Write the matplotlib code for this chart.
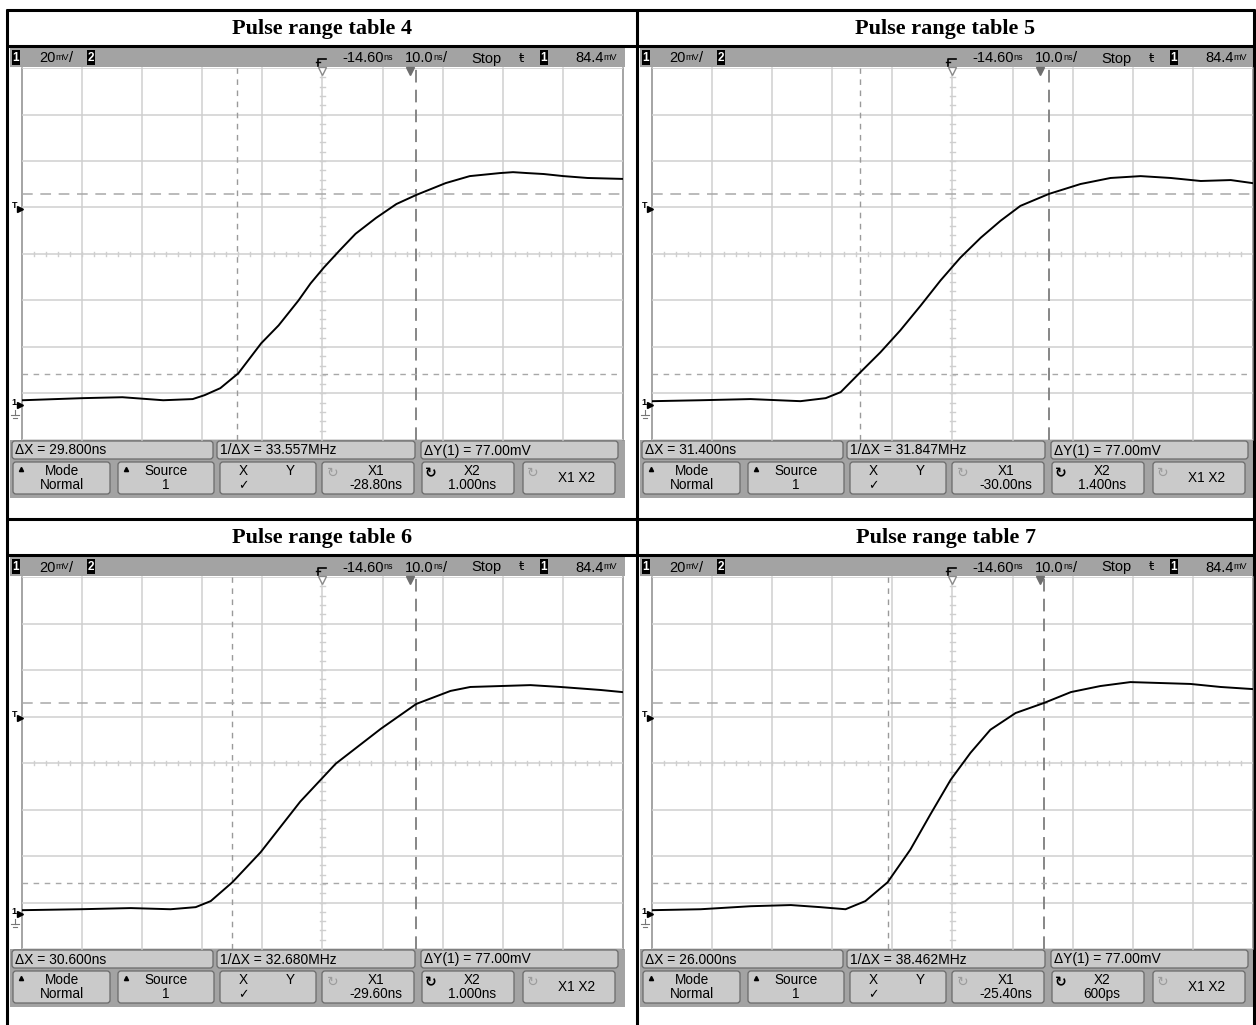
import matplotlib
matplotlib.use("Agg")
import matplotlib.pyplot as plt
from matplotlib.patches import Rectangle, FancyBboxPatch

W, H = 1256, 1025

# ---------------- data ----------------
titles = ["Pulse range table 4", "Pulse range table 5",
          "Pulse range table 6", "Pulse range table 7"]

volts_per_div_mv = 20.0
time_per_div_ns = 10.0
delay_ns = -14.60
trigger_level_mv = 84.4
screen_center_mv = 65.0
ground_mv = 0.0

status_volts = ("20", "mV", "/")
status_delay = ("-14.60", "ns", "")
status_time = ("10.0", "ns", "/")
status_run = "Stop"
status_trig = ("84.4", "mV", "")

delta_x = ["29.800ns", "31.400ns", "30.600ns", "26.000ns"]
inv_delta_x = ["33.557MHz", "31.847MHz", "32.680MHz", "38.462MHz"]
delta_y = ["77.00mV", "77.00mV", "77.00mV", "77.00mV"]
x1_ns = [-28.80, -30.00, -29.60, -25.40]
x2_ns = [1.000, 1.400, 1.000, 0.600]
x1_labels = ["-28.80ns", "-30.00ns", "-29.60ns", "-25.40ns"]
x2_labels = ["1.000ns", "1.400ns", "1.000ns", "600ps"]
y1_mv = 13.6
y2_mv = 90.6

trace4_t = [-64.5, -54.5, -47.9, -41.1, -36.2, -34.2, -31.6, -28.6, -24.8, -21.9, -18.6,
            -16.6, -14.4, -11.8, -9.1, -5.7, -2.3, 1.0, 5.9, 9.9, 14.9, 17.1, 19.5, 22.2,
            25.5, 29.5, 35.3]
trace4_v = [2.1, 3.0, 3.4, 2.1, 2.6, 4.3, 7.3, 13.7, 26.6, 34.3, 45.0,
            52.3, 59.1, 66.4, 73.7, 80.5, 86.5, 90.4, 95.5, 98.5, 99.8, 100.2, 99.8, 99.4,
            98.5, 97.7, 97.3]

trace5_t = [-64.5, -56.5, -48.2, -39.9, -35.7, -33.2, -30.1, -26.6, -23.3, -19.9, -16.6, -13.3,
            -9.9, -6.6, -3.3, 1.4, 6.7, 11.7, 16.7, 21.7, 26.7, 31.7, 35.3]
trace5_v = [1.7, 2.1, 2.6, 1.7, 3.0, 5.6, 13.7, 22.7, 32.1, 42.8, 53.6, 63.4,
            72.0, 79.3, 85.7, 90.8, 95.1, 97.7, 98.5, 97.7, 96.4, 96.8, 95.5]

trace6_t = [-64.5, -54.9, -46.5, -39.9, -35.7, -33.2, -29.6, -24.9, -18.3, -12.4, -4.9, 1.0,
            6.7, 10.0, 15.0, 20.0, 25.0, 31.7, 35.3]
trace6_v = [1.7, 2.1, 2.6, 2.1, 3.0, 5.6, 13.7, 26.6, 48.4, 64.7, 79.7, 90.4,
            96.0, 97.7, 98.1, 98.5, 97.7, 96.4, 95.5]

trace7_t = [-64.5, -56.5, -48.2, -41.5, -36.6, -32.4, -29.1, -25.4, -21.6, -18.3, -14.9, -11.6,
            -8.3, -4.1, 0.6, 5.1, 10.0, 15.0, 20.0, 25.0, 30.0, 35.3]
trace7_v = [1.7, 2.1, 3.4, 3.9, 3.0, 2.1, 5.6, 13.7, 27.8, 42.8, 57.8, 69.4,
            79.3, 86.5, 90.8, 95.5, 98.1, 99.8, 99.4, 99.0, 97.7, 96.8]

traces_t = [trace4_t, trace5_t, trace6_t, trace7_t]
traces_v = [trace4_v, trace5_v, trace6_v, trace7_v]

# ---------------- style ----------------
SERIF = ['Liberation Serif', 'DejaVu Serif']
REG = ['Liberation Sans', 'DejaVu Sans']
SYM = ['DejaVu Sans']
BAND = '#a3a3a3'
BOX = '#cacaca'
BOXEDGE = '#6a6a6a'
GRID = '#cfcfcf'

fig = plt.figure(figsize=(W / 100, H / 100), dpi=100)
ov = fig.add_axes([0, 0, 1, 1])
ov.set_xlim(0, W)
ov.set_ylim(H, 0)
ov.axis('off')
renderer = fig.canvas.get_renderer()


def rect(x0, y0, x1, y1, fc, ec='none', lw=0.0, z=1):
    ov.add_patch(Rectangle((x0, y0), x1 - x0, y1 - y0, facecolor=fc,
                           edgecolor=ec, linewidth=lw, zorder=z))


def rbox(x0, y0, x1, y1, fc=BOX, ec=BOXEDGE, z=2):
    ov.add_patch(FancyBboxPatch((x0 + 2, y0 + 2), x1 - x0 - 4, y1 - y0 - 4,
                                boxstyle="round,pad=2,rounding_size=3",
                                facecolor=fc, edgecolor=ec, linewidth=0.9, zorder=z))


def numbox(x, y, s, ox, oy):
    rect(x + ox, y + oy, x + 8 + ox, y + 15 + oy, 'black', z=3)
    ov.text(x + 4 + ox, y + 7.8 + oy, s, color='white', fontsize=8.5, weight='bold',
            family=REG, ha='center', va='center', zorder=4)


def chain(x, y, parts):
    """Draw text pieces one after another on a common baseline."""
    for s, size, dy in parts:
        if not s:
            continue
        t = ov.text(x, y + dy, s, fontsize=size, family=REG, ha='left',
                    va='baseline', zorder=4)
        x += t.get_window_extent(renderer).width


offsets = [(0, 0), (630, 0), (0, 509), (630, 509)]
title_cx = [322, 945.5]

# table lines
LW = 2.2
for yy in [10, 46, 519, 555]:
    ov.plot([6, 1255], [yy, yy], color='black', lw=LW, zorder=10, solid_capstyle='butt')
for xx in [7, 637, 1254]:
    ov.plot([xx, xx], [9, H], color='black', lw=LW, zorder=10, solid_capstyle='butt')

FS = 10.5
US = 6.5
for i in range(4):
    ox, oy = offsets[i]
    ov.text(title_cx[i % 2], 29 + oy, titles[i], family=SERIF, weight='bold',
            fontsize=16, ha='center', va='center', zorder=5)

    # ---- status bar ----
    rect(10 + ox, 48 + oy, 625 + ox, 67 + oy, BAND, z=1)
    base = 62.5 + oy
    numbox(12, 50, "1", ox, oy)
    chain(39 + ox, base, [(status_volts[0], FS, 0), (status_volts[1], US, -2.5), (status_volts[2], FS, 0)])
    numbox(87, 50, "2", ox, oy)
    # trigger mode glyph
    ov.plot([318 + ox, 318 + ox, 326 + ox], [66 + oy, 59 + oy, 59 + oy], color='black', lw=1.2, zorder=4)
    ov.plot([316 + ox, 320 + ox], [62 + oy, 62 + oy], color='black', lw=1.0, zorder=4)
    chain(342 + ox, base, [(status_delay[0], FS, 0), (status_delay[1], US, -2.5)])
    chain(405 + ox, base, [(status_time[0], FS, 0), (status_time[1], US, -2.5), (status_time[2], FS, 0)])
    chain(471 + ox, base, [(status_run, FS, 0)])
    ov.text(521 + ox, 58 + oy, "ŧ", family=SYM, fontsize=9.5, va='center', ha='center', zorder=4)
    numbox(540, 50, "1", ox, oy)
    chain(575 + ox, base, [(status_trig[0], FS, 0), (status_trig[1], US, -2.5)])

    # ---- graticule ----
    ax = fig.add_axes([(22 + ox) / W, 1 - (440 + oy) / H, 601 / W, 372 / H])
    t_lo, t_hi = delay_ns - 5 * time_per_div_ns, delay_ns + 5 * time_per_div_ns
    v_lo, v_hi = screen_center_mv - 4 * volts_per_div_mv, screen_center_mv + 4 * volts_per_div_mv
    ax.set_xlim(t_lo, t_hi)
    ax.set_ylim(v_lo, v_hi)
    ax.axis('off')
    ax.patch.set_alpha(0)
    for k in range(11):
        tx = t_lo + k * time_per_div_ns
        col = '#8c8c8c' if k in (0, 10) else GRID
        ax.axvline(tx, color=col, lw=1.1, zorder=1, clip_on=False)
    for k in range(9):
        ax.axhline(v_lo + k * volts_per_div_mv, color=GRID, lw=1.1, zorder=1)
    # minor ticks on centre axes
    for j in range(1, 50):
        tt = t_lo + j * time_per_div_ns / 5
        ax.plot([tt, tt], [screen_center_mv - 0.9, screen_center_mv + 0.9], color=GRID, lw=1.0, zorder=1)
    for j in range(1, 40):
        vv = v_lo + j * volts_per_div_mv / 5
        ax.plot([delay_ns - 0.35, delay_ns + 0.35], [vv, vv], color=GRID, lw=1.0, zorder=1)

    # cursors
    ax.axvline(x1_ns[i], color='#9a9a9a', lw=1.0, dashes=(4, 4), zorder=2)
    ax.axvline(x2_ns[i], color='#7d7d7d', lw=1.3, dashes=(7, 4), zorder=2)
    ax.axhline(y2_mv, color='#a8a8a8', lw=1.1, dashes=(7, 5), zorder=2)
    ax.axhline(y1_mv, color='#a8a8a8', lw=1.0, dashes=(4, 4), zorder=2)

    # trace
    ax.plot(traces_t[i], traces_v[i], color='black', lw=1.4, zorder=5)

    # left-side markers
    ytr = ax.get_yaxis_transform()
    ax.plot([-0.003], [trigger_level_mv], marker='>', ms=4.5, color='black',
            transform=ytr, clip_on=False, zorder=6)
    ax.text(-0.013, trigger_level_mv + 1.5, "T", transform=ytr, fontsize=6.5,
            family=REG, weight='bold', ha='center', va='center', clip_on=False)
    ax.plot([-0.003], [ground_mv], marker='>', ms=4.5, color='black',
            transform=ytr, clip_on=False, zorder=6)
    ax.text(-0.014, ground_mv + 1.0, "1", transform=ytr, fontsize=6.5,
            family=REG, weight='bold', ha='center', va='center', clip_on=False)
    # ground symbol
    gx = -0.0117
    ax.plot([gx, gx], [ground_mv - 2.0, ground_mv - 4.3], color='#777777', lw=0.8,
            transform=ytr, clip_on=False)
    ax.plot([gx - 0.006, gx + 0.006], [ground_mv - 4.3, ground_mv - 4.3], color='#777777', lw=0.8,
            transform=ytr, clip_on=False)
    ax.plot([gx - 0.0035, gx + 0.0035], [ground_mv - 5.4, ground_mv - 5.4], color='#777777', lw=0.8,
            transform=ytr, clip_on=False)

    # top markers
    xtr = ax.get_xaxis_transform()
    ax.plot([delay_ns], [0.991], marker='v', ms=6, mfc='white', mec='#8a8a8a',
            transform=xtr, clip_on=False, zorder=6)
    ax.plot([0.0], [0.991], marker='v', ms=6, color='#6e6e6e',
            transform=xtr, clip_on=False, zorder=6)

    # ---- bottom band ----
    rect(10 + ox, 440 + oy, 625 + ox, 498 + oy, BAND, z=1)
    meas_boxes = [(12, 213), (217, 415), (421, 618)]
    meas_text = ["ΔX = " + delta_x[i], "1/ΔX = " + inv_delta_x[i], "ΔY(1) = " + delta_y[i]]
    for (a, b), s in zip(meas_boxes, meas_text):
        rbox(a + ox, 441 + oy, b + ox, 459 + oy)
        ov.text(a + 3 + ox, 450.5 + oy, s, family=REG, fontsize=10, ha='left', va='center', zorder=4)

    keys = [(13, 110), (118, 214), (220, 316), (322, 414), (422, 514), (523, 615)]
    for (a, b) in keys:
        rbox(a + ox, 462 + oy, b + ox, 494 + oy)
    cx = [(a + b) / 2 for a, b in keys]
    KS = 9.8
    ov.text(cx[0] + ox, 471 + oy, "Mode", family=REG, fontsize=KS, ha='center', va='center', zorder=4)
    ov.text(cx[0] + ox, 485 + oy, "Normal", family=REG, fontsize=KS, ha='center', va='center', zorder=4)
    ov.text(cx[1] + ox, 471 + oy, "Source", family=REG, fontsize=KS, ha='center', va='center', zorder=4)
    ov.text(cx[1] + ox, 485 + oy, "1", family=REG, fontsize=KS, ha='center', va='center', zorder=4)
    for a, _ in keys[:2]:
        ov.plot([a + 8 + ox], [469 + oy], marker='^', ms=3, color='black', zorder=4)
    ov.text(243 + ox, 471 + oy, "X", family=REG, fontsize=KS, ha='center', va='center', zorder=4)
    ov.text(290 + ox, 471 + oy, "Y", family=REG, fontsize=KS, ha='center', va='center', zorder=4)
    ov.text(243 + ox, 486 + oy, "✓", family=SYM, fontsize=9, ha='center', va='center', zorder=4)
    ov.text(cx[3] + 8 + ox, 471 + oy, "X1", family=REG, fontsize=KS, ha='center', va='center', zorder=4)
    ov.text(cx[3] + 8 + ox, 485 + oy, x1_labels[i], family=REG, fontsize=KS, ha='center', va='center', zorder=4)
    ov.text(cx[4] + 4 + ox, 471 + oy, "X2", family=REG, fontsize=KS, ha='center', va='center', zorder=4)
    ov.text(cx[4] + 4 + ox, 485 + oy, x2_labels[i], family=REG, fontsize=KS, ha='center', va='center', zorder=4)
    ov.text(cx[5] + 8 + ox, 478 + oy, "X1 X2", family=REG, fontsize=KS, ha='center', va='center', zorder=4)
    ov.text(333 + ox, 473 + oy, "↻", family=SYM, fontsize=10, color='#9c9c9c', ha='center', va='center', zorder=4)
    ov.text(431 + ox, 473 + oy, "↻", family=SYM, fontsize=10, weight='bold', color='black', ha='center', va='center', zorder=4)
    ov.text(533 + ox, 473 + oy, "↻", family=SYM, fontsize=10, color='#9c9c9c', ha='center', va='center', zorder=4)

fig.savefig("out.png", dpi=100, facecolor='white')
